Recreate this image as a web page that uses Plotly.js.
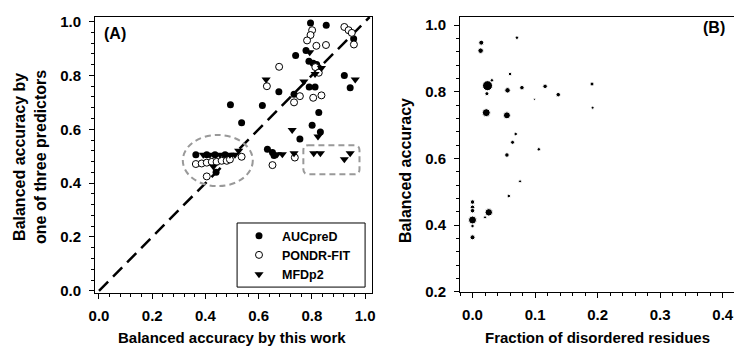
<!DOCTYPE html>
<html>
<head>
<meta charset="utf-8">
<script src="https://cdn.plot.ly/plotly-3.0.1.min.js"></script>
<style>html,body{margin:0;padding:0;background:#fff;}#chart{width:734px;height:347px;}</style>
</head>
<body>
<div id="chart"></div>
<script>
// ---------- Panel A data ----------
const aucX  = [0.795,0.854,0.957,0.778,0.739,0.789,0.805,0.818,0.826,0.922,0.944,0.676,0.790,0.812,0.733,0.614,0.494,0.536,0.826,0.801,0.832,0.755,0.633,0.652,0.658,0.364,0.405,0.436,0.474,0.440];
const aucY  = [0.995,0.986,0.936,0.893,0.874,0.853,0.845,0.841,0.828,0.800,0.754,0.739,0.757,0.757,0.730,0.688,0.691,0.624,0.662,0.615,0.590,0.564,0.526,0.514,0.503,0.505,0.505,0.505,0.505,0.440];
const pondX = [0.922,0.938,0.950,0.958,0.801,0.795,0.782,0.817,0.853,0.677,0.813,0.826,0.631,0.733,0.755,0.805,0.836,0.652,0.736,0.364,0.386,0.405,0.424,0.442,0.461,0.480,0.492,0.536,0.405];
const pondY = [0.980,0.968,0.958,0.915,0.968,0.950,0.930,0.910,0.913,0.832,0.831,0.810,0.760,0.700,0.723,0.717,0.726,0.467,0.495,0.471,0.473,0.476,0.479,0.479,0.483,0.483,0.488,0.498,0.425];
const mfdX  = [0.792,0.836,0.812,0.963,0.628,0.770,0.726,0.823,0.670,0.689,0.733,0.807,0.832,0.922,0.944,0.392,0.417,0.455,0.492,0.511,0.525,0.430];
const mfdY  = [0.886,0.828,0.805,0.785,0.785,0.777,0.597,0.573,0.507,0.507,0.511,0.511,0.511,0.489,0.511,0.505,0.505,0.505,0.505,0.505,0.520,0.462];
const seriesNames = ["AUCpreD","PONDR-FIT","MFDp2"];

// ---------- Panel B data ----------
const fracX = [0.014,0.013,0.071,0.060,0.024,0.031,0.023,0.056,0.079,0.116,0.099,0.137,0.191,0.192,0.022,0.055,0.069,0.064,0.106,0.055,0.076,0.058,0.000,0.000,0.000,0.000,0.000,0.020,0.026,0.000];
const baccY = [0.947,0.923,0.962,0.853,0.818,0.834,0.794,0.804,0.812,0.816,0.777,0.791,0.823,0.752,0.737,0.729,0.673,0.648,0.627,0.610,0.531,0.487,0.469,0.453,0.443,0.415,0.397,0.423,0.438,0.363];
const bSize = [5,5.5,3.5,3.5,10,3.5,4,5.5,4.5,4.5,2,4.5,4,3,8,7,3.5,4,3.5,4.5,3,3.5,4.5,4.5,4.5,8,3.5,3,7.5,5];

// ---------- Axis titles / tick settings ----------
const xTitleA = "Balanced accuracy by this work";
const yTitleA = "Balanced accuracy by<br>one of three predictors";
const xTitleB = "Fraction of disordered residues";
const yTitleB = "Balanced accuracy";

const FONT = "'Liberation Sans', Arial, sans-serif";
const W = 734, H = 347;
const px = v => v / W;
const py = v => 1 - v / H;

const traces = [
  {x: aucX, y: aucY, name: seriesNames[0], type: 'scatter', mode: 'markers', xaxis: 'x', yaxis: 'y',
   marker: {symbol: 'circle', size: 7, color: '#000', opacity: 1}},
  {x: pondX, y: pondY, name: seriesNames[1], type: 'scatter', mode: 'markers', xaxis: 'x', yaxis: 'y',
   marker: {symbol: 'circle', size: 7, color: '#fff', opacity: 1, line: {width: 1, color: '#000'}}},
  {x: mfdX, y: mfdY, name: seriesNames[2], type: 'scatter', mode: 'markers', xaxis: 'x', yaxis: 'y',
   marker: {symbol: 'triangle-down', size: 8, color: '#000', opacity: 1}},
  {x: fracX, y: baccY, type: 'scatter', mode: 'markers', xaxis: 'x2', yaxis: 'y2', showlegend: false,
   marker: {symbol: 'circle', size: bSize, sizemode: 'diameter', color: '#000', opacity: 1}}
];

const minorBase = {ticks: 'outside', ticklen: 3, tickcolor: '#000', tickwidth: 1, showgrid: false};
const axBase = {
  showgrid: false, zeroline: false, showline: true, linecolor: '#000', linewidth: 1, mirror: true,
  ticks: 'outside', ticklen: 5, tickwidth: 1, tickcolor: '#000', tickmode: 'linear', tickformat: '.1f',
  tickfont: {family: FONT, size: 15, color: '#000', weight: 'bold'},
  fixedrange: true, automargin: false
};

const layout = {
  width: W, height: H,
  margin: {l: 0, r: 0, t: 0, b: 0},
  paper_bgcolor: '#fff', plot_bgcolor: '#fff',
  showlegend: true,
  font: {family: FONT, color: '#000'},
  xaxis: Object.assign({}, axBase, {domain: [px(95), px(372)], range: [-0.015, 1.026], tick0: 0, dtick: 0.2,
     ticklabelstandoff: 4, minor: Object.assign({dtick: 0.04, tick0: 0}, minorBase)}),
  yaxis: Object.assign({}, axBase, {domain: [py(293), py(17)], range: [-0.008, 1.017], tick0: 0, dtick: 0.2,
     ticklabelstandoff: 5, minor: Object.assign({dtick: 0.04, tick0: 0}, minorBase)}),
  xaxis2: Object.assign({}, axBase, {domain: [px(460), 1], range: [-0.02, 0.418], anchor: 'y2', tick0: 0, dtick: 0.1,
     ticklabelstandoff: 4, minor: Object.assign({dtick: 0.02, tick0: 0}, minorBase)}),
  yaxis2: Object.assign({}, axBase, {domain: [py(292), py(17)], range: [0.199, 1.024], anchor: 'x2', tick0: 0.2, dtick: 0.2,
     ticklabelstandoff: 5, minor: Object.assign({dtick: 0.04, tick0: 0.2}, minorBase)}),
  legend: {x: px(236), y: py(221), xanchor: 'left', yanchor: 'top', bgcolor: 'rgba(0,0,0,0)', borderwidth: 0,
    itemwidth: 36, tracegroupgap: 0, font: {family: FONT, size: 12.5, color: '#000', weight: 'bold'}},
  shapes: [
    {type: 'line', xref: 'x', yref: 'y', x0: 0, y0: 0, x1: 1.017, y1: 1.017, layer: 'below',
     line: {color: '#000', width: 2.5, dash: '13px,7px'}},
    {type: 'circle', xref: 'x', yref: 'y', x0: 0.315, x1: 0.578, y0: 0.389, y1: 0.579, layer: 'below',
     line: {color: '#999', width: 2, dash: '6px,4px'}},
    {type: 'path', xref: 'x', yref: 'y', layer: 'below', line: {color: '#999', width: 2, dash: '6px,4px'},
     path: 'M 0.787 0.541 L 0.960 0.541 Q 0.979 0.541 0.979 0.522 L 0.979 0.452 Q 0.979 0.433 0.960 0.433 L 0.787 0.433 Q 0.768 0.433 0.768 0.452 L 0.768 0.522 Q 0.768 0.541 0.787 0.541 Z'},
    {type: 'rect', xref: 'x', yref: 'y', x0: 0.519, x1: 1.0, y0: 0.014, y1: 0.252, layer: 'above',
     line: {color: '#000', width: 1}, fillcolor: 'rgba(0,0,0,0)'}
  ],
  annotations: [
    {text: '<b>(A)</b>', x: px(115), y: py(34), font: {size: 16, family: FONT}},
    {text: '<b>(B)</b>', x: px(714), y: py(28), font: {size: 16, family: FONT}},
    {text: '<b>' + xTitleA + '</b>', x: px(232), y: py(337), font: {size: 15, family: FONT}},
    {text: '<b>' + xTitleB + '</b>', x: px(597), y: py(337), font: {size: 15, family: FONT}},
    {text: '<b>' + yTitleA + '</b>', x: px(30), y: py(157), textangle: -90, font: {size: 16, family: FONT}},
    {text: '<b>' + yTitleB + '</b>', x: px(406), y: py(170), textangle: -90, font: {size: 16, family: FONT}}
  ].map(a => Object.assign({xref: 'paper', yref: 'paper', xanchor: 'center', yanchor: 'middle', showarrow: false}, a))
};

Plotly.newPlot('chart', traces, layout, {staticPlot: true, displayModeBar: false});
</script>
</body>
</html>
